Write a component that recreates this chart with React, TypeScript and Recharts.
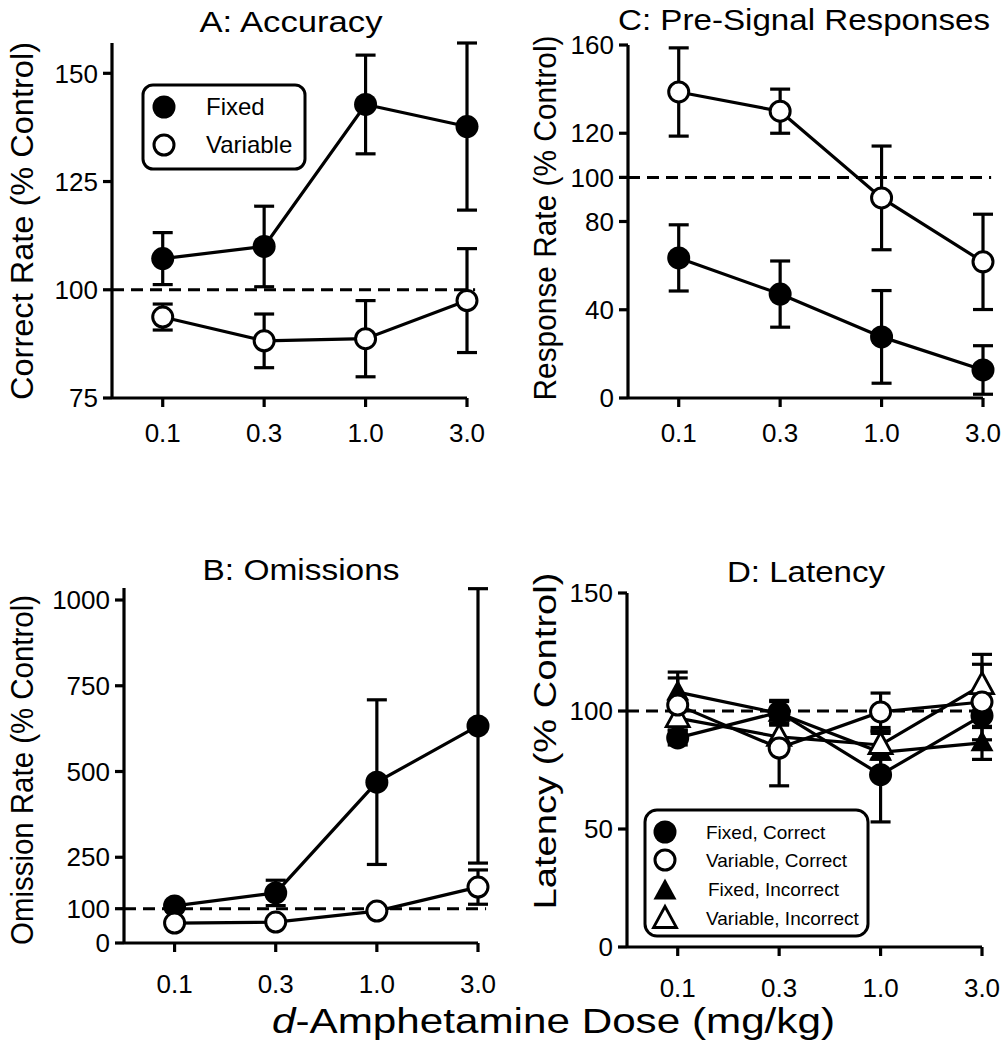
import React from 'react';
import { LineChart, Line, XAxis, YAxis, ErrorBar, ReferenceLine } from 'recharts';

const doses = ['0.1', '0.3', '1.0', '3.0'];

// A: Accuracy
const accFixed = [107.2, 110, 142.8, 137.7];
const accFixedErr = [6, 9.3, 11.4, 19.3];
const accVariable = [93.7, 88.2, 88.7, 97.5];
const accVariableErr = [3, 6.2, 8.8, 12];

// B: Omissions
const omFixed = [108, 146, 469, 633];
const omFixedErr = [8, 37, 240, 400];
const omVariable = [58, 61, 93, 163];
const omVariableErr = [6, 8, 8, 50];

// C: Pre-signal responses
const preFixed = [63.5, 47.1, 27.7, 12.7];
const preFixedErr = [15, 15, 21, 11];
const preVariable = [138.7, 130, 90.7, 61.7];
const preVariableErr = [20, 10, 23.5, 21.6];

// D: Latency
const latFixedCorrect = [88.6, 99.5, 73, 98];
const latFixedCorrectErr = [3, 5, 20, 5];
const latVariableCorrect = [102.5, 84.3, 99.6, 103.8];
const latVariableCorrectErr = [14, 16, 8, 16];
const latFixedIncorrect = [108, 99, 82.5, 86.5];
const latFixedIncorrectErr = [6, 5, 8, 7];
const latVariableIncorrect = [97, 89, 85.6, 111];
const latVariableIncorrectErr = [5, 6, 6, 13];

const FONT = '"Liberation Sans", Arial, Helvetica, sans-serif';

const rows = (pairs: Record<string, number[]>) =>
  doses.map((_, i) => {
    const r: Record<string, number> = { x: i };
    Object.keys(pairs).forEach((k) => (r[k] = pairs[k][i]));
    return r;
  });

type Shape = 'circle' | 'triangle';

const makeDot = (shape: Shape, filled: boolean) => (p: any) => {
  const { cx, cy, index } = p;
  if (cx == null || cy == null) return <g key={`n${index}`} />;
  if (shape === 'circle') {
    return filled ? (
      <circle key={index} cx={cx} cy={cy} r={11.5} fill="#000" />
    ) : (
      <circle key={index} cx={cx} cy={cy} r={10} fill="#fff" stroke="#000" strokeWidth={3} />
    );
  }
  const d = `M${cx},${cy - 12.5} L${cx + 11.5},${cy + 8.5} L${cx - 11.5},${cy + 8.5} Z`;
  return filled ? (
    <path key={index} d={d} fill="#000" />
  ) : (
    <path key={index} d={d} fill="#fff" stroke="#000" strokeWidth={2.8} strokeLinejoin="miter" />
  );
};

type Series = { key: string; err: string; shape: Shape; filled: boolean };

type PanelProps = {
  left: number;
  top: number;
  width: number;
  height: number;
  margin: { top: number; left: number; right: number; bottom: number };
  yDomain: [number, number];
  yTicks: number[];
  xTickMargin: number;
  data: Record<string, number>[];
  series: Series[];
};

const Panel = ({ left, top, width, height, margin, yDomain, yTicks, xTickMargin, data, series }: PanelProps) => (
  <div style={{ position: 'absolute', left, top, width, height }}>
    <LineChart width={width} height={height} data={data} margin={margin}>
      <XAxis
        type="number"
        dataKey="x"
        domain={[-0.5, 3]}
        ticks={[0, 1, 2, 3]}
        tickFormatter={(v: number) => doses[v]}
        height={50}
        axisLine={{ stroke: '#000', strokeWidth: 3.2 }}
        tickLine={{ stroke: '#000', strokeWidth: 3.2 }}
        tickSize={9}
        tickMargin={xTickMargin}
        tick={{ fill: '#000', fontSize: 26, fontFamily: FONT }}
      />
      <YAxis
        type="number"
        domain={yDomain}
        ticks={yTicks}
        interval={0}
        width={60}
        axisLine={{ stroke: '#000', strokeWidth: 3.2 }}
        tickLine={{ stroke: '#000', strokeWidth: 3.2 }}
        tickSize={9}
        tickMargin={5}
        tick={{ fill: '#000', fontSize: 26, fontFamily: FONT }}
      />
      <ReferenceLine
        segment={[{ x: -0.5, y: 100 }, { x: 3.08, y: 100 }]}
        stroke="#000"
        strokeWidth={3}
        strokeDasharray="12 7"
        ifOverflow="visible"
      />
      {series.map((s) => (
        <Line
          key={s.key}
          dataKey={s.key}
          stroke="#000"
          strokeWidth={3.2}
          dot={makeDot(s.shape, s.filled)}
          activeDot={false}
          isAnimationActive={false}
        >
          <ErrorBar dataKey={s.err} width={10} stroke="#000" strokeWidth={3.2} direction="y" isAnimationActive={false} />
        </Line>
      ))}
    </LineChart>
  </div>
);

const fixedVar: Series[] = [
  { key: 'fixed', err: 'fixedErr', shape: 'circle', filled: true },
  { key: 'variable', err: 'variableErr', shape: 'circle', filled: false },
];

const latencySeries: Series[] = [
  { key: 'fc', err: 'fcErr', shape: 'circle', filled: true },
  { key: 'fi', err: 'fiErr', shape: 'triangle', filled: true },
  { key: 'vi', err: 'viErr', shape: 'triangle', filled: false },
  { key: 'vc', err: 'vcErr', shape: 'circle', filled: false },
];

const Title = ({ x, y, len, children }: { x: number; y: number; len: number; children: string }) => (
  <text x={x} y={y} textAnchor="middle" fontSize={30} fontFamily={FONT} fill="#000" textLength={len} lengthAdjust="spacingAndGlyphs">
    {children}
  </text>
);

const YLabel = ({ x, y, len, size, children }: { x: number; y: number; len: number; size: number; children: string }) => (
  <text
    transform={`translate(${x},${y}) rotate(-90)`}
    textAnchor="middle"
    fontSize={size}
    fontFamily={FONT}
    fill="#000"
    textLength={len}
    lengthAdjust="spacingAndGlyphs"
  >
    {children}
  </text>
);

const LegendSym = ({ x, y, shape, filled }: { x: number; y: number; shape: Shape; filled: boolean }) =>
  makeDot(shape, filled)({ cx: x, cy: y, index: `${x}-${y}` });

export default function App() {
  const accData = rows({ fixed: accFixed, fixedErr: accFixedErr, variable: accVariable, variableErr: accVariableErr });
  const omData = rows({ fixed: omFixed, fixedErr: omFixedErr, variable: omVariable, variableErr: omVariableErr });
  const preData = rows({ fixed: preFixed, fixedErr: preFixedErr, variable: preVariable, variableErr: preVariableErr });
  const latData = rows({
    fc: latFixedCorrect,
    fcErr: latFixedCorrectErr,
    vc: latVariableCorrect,
    vcErr: latVariableCorrectErr,
    fi: latFixedIncorrect,
    fiErr: latFixedIncorrectErr,
    vi: latVariableIncorrect,
    viErr: latVariableIncorrectErr,
  });

  return (
    <div style={{ position: 'absolute', left: 0, top: 0, width: 1006, height: 1050, background: '#fff', overflow: 'hidden' }}>
      <Panel
        left={0}
        top={0}
        width={500}
        height={470}
        margin={{ top: 43, left: 52, right: 33, bottom: 22 }}
        yDomain={[75, 157]}
        yTicks={[75, 100, 125, 150]}
        xTickMargin={17}
        data={accData}
        series={fixedVar}
      />
      <Panel
        left={503}
        top={0}
        width={503}
        height={470}
        margin={{ top: 45, left: 65, right: 23, bottom: 22 }}
        yDomain={[0, 160]}
        yTicks={[0, 40, 80, 100, 120, 160]}
        xTickMargin={17}
        data={preData}
        series={fixedVar}
      />
      <Panel
        left={0}
        top={500}
        width={500}
        height={550}
        margin={{ top: 88, left: 64, right: 22, bottom: 57 }}
        yDomain={[0, 1035]}
        yTicks={[0, 100, 250, 500, 750, 1000]}
        xTickMargin={23}
        data={omData}
        series={fixedVar}
      />
      <Panel
        left={503}
        top={500}
        width={503}
        height={550}
        margin={{ top: 93, left: 64, right: 24, bottom: 53 }}
        yDomain={[0, 150]}
        yTicks={[0, 50, 100, 150]}
        xTickMargin={23}
        data={latData}
        series={latencySeries}
      />
      <svg width={1006} height={1050} style={{ position: 'absolute', left: 0, top: 0, pointerEvents: 'none' }}>
        <Title x={291} y={32} len={183}>A: Accuracy</Title>
        <Title x={804} y={30} len={372}>C: Pre-Signal Responses</Title>
        <Title x={301} y={580} len={197}>B: Omissions</Title>
        <Title x={806} y={582} len={158}>D: Latency</Title>

        <YLabel x={33} y={221} len={358} size={32}>Correct Rate (% Control)</YLabel>
        <YLabel x={33} y={770} len={350} size={31}>Omission Rate (% Control)</YLabel>
        <YLabel x={556} y={218} len={365} size={31}>Response Rate (% Control)</YLabel>
        <YLabel x={556} y={741} len={337} size={31}>Latency (% Control)</YLabel>

        <text x={272} y={1033} fontSize={35} fontFamily={FONT} fill="#000" textLength={563} lengthAdjust="spacingAndGlyphs">
          <tspan fontStyle="italic">d</tspan>-Amphetamine Dose (mg/kg)
        </text>

        <rect x={143} y={85} width={162} height={84} rx={10} fill="#fff" stroke="#000" strokeWidth={3} />
        <LegendSym x={164} y={107} shape="circle" filled />
        <LegendSym x={164} y={145} shape="circle" filled={false} />
        <text x={206} y={115} fontSize={24} fontFamily={FONT} fill="#000">Fixed</text>
        <text x={206} y={153} fontSize={24} fontFamily={FONT} fill="#000">Variable</text>

        <rect x={645} y={810} width={223} height={126} rx={12} fill="#fff" stroke="#000" strokeWidth={3} />
        <LegendSym x={665} y={832} shape="circle" filled />
        <LegendSym x={665} y={860} shape="circle" filled={false} />
        <LegendSym x={665} y={891} shape="triangle" filled />
        <LegendSym x={665} y={919} shape="triangle" filled={false} />
        <text x={706} y={839} fontSize={19} fontFamily={FONT} fill="#000">Fixed, Correct</text>
        <text x={706} y={867} fontSize={19} fontFamily={FONT} fill="#000">Variable, Correct</text>
        <text x={708} y={896} fontSize={19} fontFamily={FONT} fill="#000">Fixed, Incorrect</text>
        <text x={706} y={925} fontSize={19} fontFamily={FONT} fill="#000">Variable, Incorrect</text>
      </svg>
    </div>
  );
}
